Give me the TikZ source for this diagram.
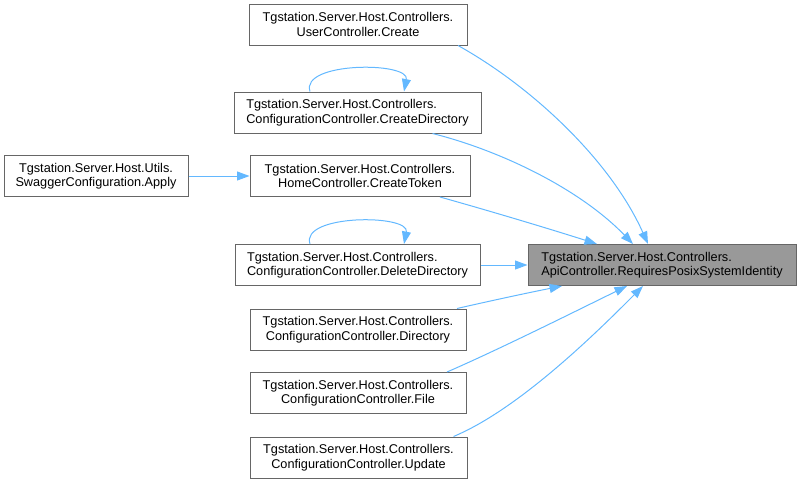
\documentclass[tikz,border=0pt]{standalone}
\usepackage{fontspec}
\setmainfont{Liberation Sans}
\usetikzlibrary{arrows.meta}

\definecolor{edgeblue}{HTML}{63B8FF}
\definecolor{boxgray}{HTML}{666666}
\definecolor{mainfill}{HTML}{999999}

\begin{document}
\begin{tikzpicture}[x=1pt, y=-1pt, >={Triangle[length=12.5pt,width=9pt]},
  fn/.style={draw=boxgray, line width=1pt, fill=white, inner sep=0pt,
    minimum height=41pt, align=center, font=\fontsize{12.7}{14.5}\selectfont},
  call/.style={->, draw=edgeblue, line width=1pt}]
  \useasboundingbox (0,0) rectangle (801,483);
  % aufgerufene Funktion
  \node[fn, fill=mainfill, minimum width=268pt, align=left] (req) at (662,265)
    {Tgstation.Server.Host.Controllers.\\ApiController.RequiresPosixSystemIdentity};
  % Aufrufer
  \node[fn, minimum width=218pt] (ucreate) at (358,24.5)
    {Tgstation.Server.Host.Controllers.\\UserController.Create};
  \node[fn, minimum width=247pt, align=left] (cdir) at (357.5,112.5)
    {Tgstation.Server.Host.Controllers.\\ConfigurationController.CreateDirectory};
  \node[fn, minimum width=220pt] (token) at (360,176)
    {Tgstation.Server.Host.Controllers.\\HomeController.CreateToken};
  \node[fn, minimum width=184pt] (swag) at (96,176)
    {Tgstation.Server.Host.Utils.\\SwaggerConfiguration.Apply};
  \node[fn, minimum width=245pt, align=left] (ddir) at (357.5,265)
    {Tgstation.Server.Host.Controllers.\\ConfigurationController.DeleteDirectory};
  \node[fn, minimum width=216pt] (dir) at (358,329.5)
    {Tgstation.Server.Host.Controllers.\\ConfigurationController.Directory};
  \node[fn, minimum width=216pt] (file) at (358,393)
    {Tgstation.Server.Host.Controllers.\\ConfigurationController.File};
  \node[fn, minimum width=217pt] (upd) at (358.5,457.5)
    {Tgstation.Server.Host.Controllers.\\ConfigurationController.Update};
  % Kanten oben
  \draw[call] ([xshift=100pt]ucreate.south) .. controls +(72,40) and +(-38,-85) .. ([xshift=-14pt]req.north);
  \draw[call] ([xshift=75pt]cdir.south) .. controls +(68,17) and +(-53,-55) .. ([xshift=-29pt]req.north);
  \draw[call] ([xshift=80pt]token.south) .. controls +(50,14) and +(-47,-15) .. ([xshift=-65pt]req.north);
  \draw[call] (swag) -- (token);
  \draw[call] (ddir) -- (req);
  % Kanten unten
  \draw[call] ([xshift=99pt]dir.north) .. controls +(35,-8) and +(-35,7) .. ([xshift=-100pt]req.south);
  \draw[call] ([xshift=89pt]file.north) .. controls +(53,-23) and +(-47,23) .. ([xshift=-35pt]req.south);
  \draw[call] ([xshift=95pt]upd.north) .. controls +(67,-28) and +(-43,43) .. ([xshift=-19pt]req.south);
  % Rekursion
  \draw[call] ([xshift=-47.5pt]cdir.north) .. controls +(-10,-30) and +(6,-30) .. ([xshift=46.5pt]cdir.north);
  \draw[call] ([xshift=-47.5pt]ddir.north) .. controls +(-10,-30) and +(6,-30) .. ([xshift=46.5pt]ddir.north);
\end{tikzpicture}
\end{document}
